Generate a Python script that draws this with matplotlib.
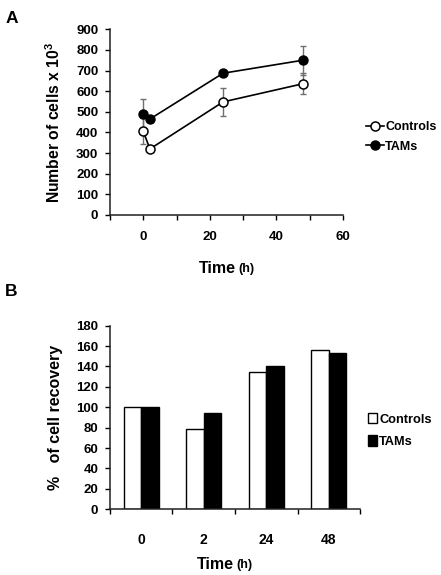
import matplotlib
matplotlib.use("Agg")
import matplotlib.pyplot as plt

plt.rcParams['font.family'] = ['Liberation Sans', 'DejaVu Sans']
plt.rcParams['font.weight'] = 'bold'
plt.rcParams['mathtext.default'] = 'regular'

# Painel A - numero de celulas
time_h = [0, 2, 24, 48]
controls = [406, 320, 548, 636]
controls_err = [62, 8, 68, 50]
tams = [489, 465, 687, 750]
tams_err = [72, 8, 14, 71]

# Painel B - % de recuperacao
categories = ['0', '2', '24', '48']
controls_rec = [100, 79, 135, 156]
tams_rec = [100, 94, 140, 153]

fig = plt.figure(figsize=(4.41, 5.75), dpi=100)

# ---------- A ----------
ax1 = fig.add_axes([0.2494, 0.6261, 0.528, 0.323])
ax1.errorbar(time_h, controls, yerr=controls_err, fmt='none', ecolor='#707070',
             elinewidth=1, capsize=2.5, capthick=1, zorder=1)
ax1.errorbar(time_h, tams, yerr=tams_err, fmt='none', ecolor='#707070',
             elinewidth=1, capsize=2.5, capthick=1, zorder=1)
ax1.plot(time_h, controls, color='black', linewidth=1.2, marker='o', markersize=6.5,
         markerfacecolor='white', markeredgecolor='black', markeredgewidth=1.1,
         label='Controls', zorder=3)
ax1.plot(time_h, tams, color='black', linewidth=1.2, marker='o', markersize=6.5,
         markerfacecolor='black', markeredgecolor='black', label='TAMs', zorder=3)
ax1.set_xlim(-10, 60)
ax1.set_ylim(0, 900)
ax1.set_xticks(range(-10, 61, 10))
ax1.set_xticklabels(['', '0', '', '20', '', '40', '', '60'])
ax1.set_yticks(range(0, 901, 100))
ax1.set_ylabel('Number of cells x 10$^3$', fontsize=11.3, fontweight='bold', labelpad=9)
ax1.legend(loc='center left', bbox_to_anchor=(1.05, 0.42), frameon=False,
           fontsize=9, handlelength=1.5, handletextpad=0.05, labelspacing=0.6)

# ---------- B ----------
ax2 = fig.add_axes([0.2494, 0.1143, 0.567, 0.3193])
xpos = list(range(len(categories)))
w = 0.283
ax2.bar([x - w / 2 for x in xpos], controls_rec, width=w, color='white',
        edgecolor='black', linewidth=1, label='Controls')
ax2.bar([x + w / 2 for x in xpos], tams_rec, width=w, color='black',
        edgecolor='black', linewidth=1, label='TAMs')
ax2.set_xlim(-0.5, 3.5)
ax2.set_ylim(0, 180)
ax2.set_yticks(range(0, 181, 20))
ax2.set_xticks([-0.5, 0.5, 1.5, 2.5, 3.5])
ax2.set_xticklabels([])
ax2.set_xticks(xpos, minor=True)
ax2.set_xticklabels(categories, minor=True)
ax2.tick_params(axis='x', which='minor', length=0, pad=17, labelsize=10)
ax2.set_ylabel('%   of cell recovery', fontsize=11.5, fontweight='bold', labelpad=9)
ax2.legend(loc='center left', bbox_to_anchor=(0.985, 0.43), frameon=False,
           fontsize=9.2, handlelength=0.7, handleheight=0.9, handletextpad=0.2,
           labelspacing=0.75)

for ax in (ax1, ax2):
    ax.spines['top'].set_visible(False)
    ax.spines['right'].set_visible(False)
    for s in ('left', 'bottom'):
        ax.spines[s].set_linewidth(1.1)
        ax.spines[s].set_color('#202020')
    ax.tick_params(axis='both', which='major', direction='out', length=3.5,
                   width=1, labelsize=9.5, pad=5)
    ax.tick_params(axis='x', which='major', pad=8)

# eixos x "Time (h)"
fig.text(0.535, 0.533, 'Time', fontsize=11.5, fontweight='bold', ha='right', va='center')
fig.text(0.541, 0.532, '(h)', fontsize=9, fontweight='bold', ha='left', va='center')
fig.text(0.530, 0.019, 'Time', fontsize=11.5, fontweight='bold', ha='right', va='center')
fig.text(0.536, 0.018, '(h)', fontsize=9, fontweight='bold', ha='left', va='center')

# letras dos paineis
fig.text(0.012, 0.968, 'A', fontsize=12.5, fontweight='bold', ha='left', va='center')
fig.text(0.012, 0.493, 'B', fontsize=12.5, fontweight='bold', ha='left', va='center')

fig.savefig('out.png', dpi=100)
